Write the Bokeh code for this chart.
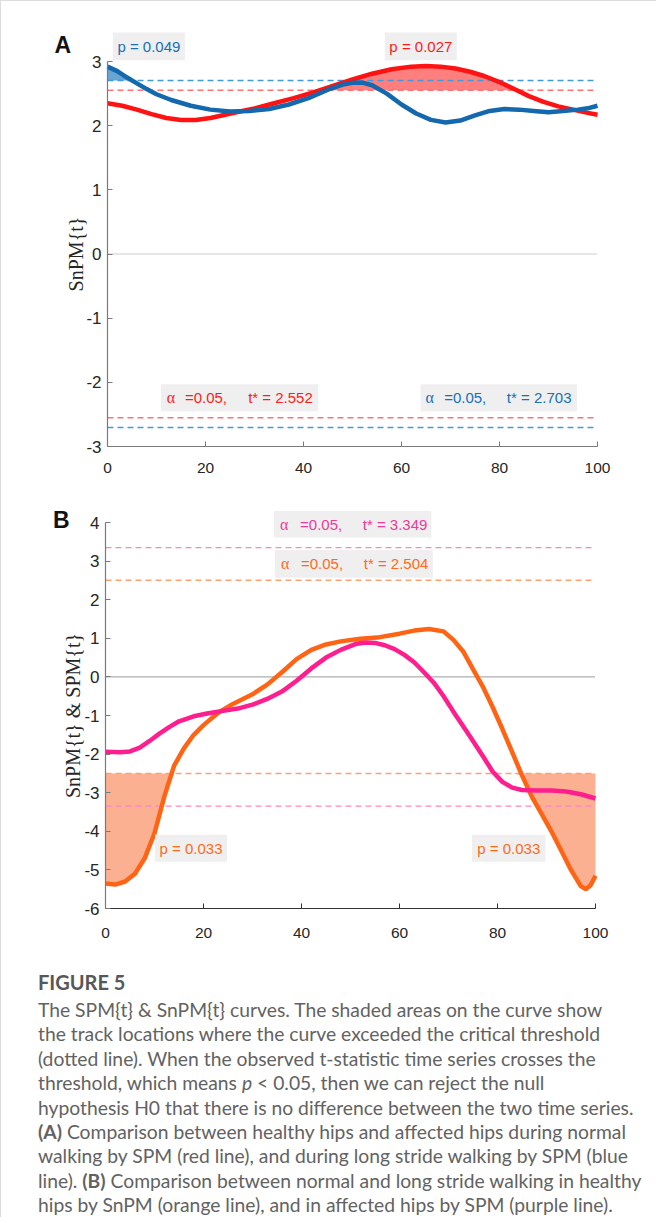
import numpy as np
from bokeh.plotting import figure
from bokeh.models import FixedTicker, Div
from bokeh.layouts import column
from bokeh.embed import file_html
from bokeh.resources import INLINE
from bokeh.core.properties import value

# ---------------- data ----------------
x_ticks = [0, 20, 40, 60, 80, 100]

# Panel A
a_y_ticks = [-3, -2, -1, 0, 1, 2, 3]
a_blue_x = [0, 2, 4, 6, 8, 10, 13, 17, 21, 25, 29, 33, 37, 41, 45, 48, 50, 52, 54, 57, 60, 63, 66, 69, 72, 75, 78, 81, 84, 87, 90, 93, 96, 98, 100]
a_blue_y = [2.92, 2.85, 2.75, 2.66, 2.57, 2.49, 2.40, 2.31, 2.25, 2.22, 2.23, 2.26, 2.33, 2.43, 2.56, 2.64, 2.67, 2.67, 2.63, 2.50, 2.33, 2.19, 2.09, 2.05, 2.08, 2.16, 2.23, 2.26, 2.25, 2.23, 2.21, 2.23, 2.25, 2.27, 2.31]
a_red_x = [0, 3, 6, 9, 12, 15, 18, 21, 24, 27, 30, 34, 38, 42, 46, 50, 54, 58, 62, 65, 68, 71, 74, 77, 80, 83, 86, 89, 92, 95, 98, 100]
a_red_y = [2.35, 2.31, 2.25, 2.18, 2.12, 2.09, 2.09, 2.12, 2.17, 2.22, 2.27, 2.35, 2.43, 2.52, 2.62, 2.72, 2.81, 2.88, 2.92, 2.93, 2.92, 2.89, 2.84, 2.77, 2.68, 2.57, 2.46, 2.37, 2.30, 2.25, 2.20, 2.17]
a_t_red = 2.552
a_t_blue = 2.703
a_p_red = "p = 0.027"
a_p_blue = "p = 0.049"

# Panel B
b_y_ticks = [-6, -5, -4, -3, -2, -1, 0, 1, 2, 3, 4]
b_orange_x = [0, 2, 4, 6, 8, 10, 12, 14, 16, 18, 20, 23, 26, 30, 33, 36, 39, 42, 45, 48, 52, 56, 60, 63, 66, 69, 71, 73, 75, 77, 79, 81, 83, 85, 87, 89, 91, 93, 95, 97, 98, 99, 100]
b_orange_y = [-5.35, -5.38, -5.30, -5.10, -4.70, -4.05, -3.10, -2.30, -1.85, -1.50, -1.25, -0.93, -0.70, -0.45, -0.20, 0.12, 0.46, 0.70, 0.84, 0.92, 0.99, 1.03, 1.12, 1.20, 1.24, 1.18, 0.96, 0.66, 0.20, -0.25, -0.78, -1.35, -1.95, -2.55, -3.10, -3.55, -4.00, -4.50, -5.00, -5.42, -5.50, -5.40, -5.15]
b_pink_x = [0, 3, 5, 7, 9, 11, 13, 15, 18, 21, 24, 27, 30, 33, 36, 39, 42, 45, 48, 51, 53, 55, 57, 59, 61, 63, 65, 67, 69, 71, 73, 75, 77, 79, 81, 83, 85, 88, 91, 94, 97, 100]
b_pink_y = [-1.94, -1.95, -1.93, -1.83, -1.66, -1.47, -1.30, -1.15, -1.02, -0.94, -0.88, -0.82, -0.72, -0.57, -0.38, -0.10, 0.22, 0.50, 0.70, 0.85, 0.89, 0.88, 0.82, 0.72, 0.57, 0.38, 0.12, -0.15, -0.50, -0.90, -1.28, -1.66, -2.05, -2.45, -2.72, -2.87, -2.93, -2.94, -2.94, -2.97, -3.04, -3.15]
b_t_orange = 2.504
b_t_pink = 3.349
b_p_orange = "p = 0.033"
alpha_level = "=0.05,"

# ---------------- style ----------------
SANS = "Liberation Sans"
SERIF = "Liberation Serif"
RED = "#ff1212"
BLUE = "#1368ae"
RED_DASH = "#ff7373"
BLUE_DASH = "#3f9be0"
RED_TXT = "#ff1a1a"
BLUE_TXT = "#1670b8"
ORANGE = "#ff6414"
PINK = "#ff1e8e"
ORANGE_DASH = "#ffa070"
PINK_DASH = "#ff82c3"
ORANGE_TXT = "#ff6a1a"
PINK_TXT = "#f0389a"
BOX = "#efefef"
W = 645
PX_PER_X = 4.9


def make_fig(height, x0_px, ytop_px, px_per_y, y_ticks, xcol, ycol, xstand):
    # the frame fills the whole canvas; axes are pinned at x=0 and y=min tick
    xmin = -x0_px / PX_PER_X
    xmax = xmin + W / PX_PER_X
    ymax = y_ticks[-1] + ytop_px / px_per_y
    ymin = ymax - height / px_per_y
    p = figure(width=W, height=height, x_range=(xmin, xmax), y_range=(ymin, ymax),
               output_backend="svg", toolbar_location=None,
               min_border_left=0, min_border_right=0, min_border_top=0, min_border_bottom=0)
    p.outline_line_color = None
    p.grid.visible = False
    for ax, col in ((p.xaxis[0], xcol), (p.yaxis[0], ycol)):
        ax.axis_line_color = col
        ax.axis_line_width = 1.2
        ax.major_tick_line_color = col
        ax.major_tick_in = 5
        ax.major_tick_out = 0
        ax.minor_tick_line_color = None
        ax.major_label_text_font = SANS
        ax.major_label_text_color = "#262626"
        ax.major_label_orientation = "horizontal"
    p.xaxis.major_label_text_font_size = "15.5px"
    p.yaxis.major_label_text_font_size = "17px"
    p.xaxis.ticker = FixedTicker(ticks=x_ticks)
    p.xaxis.bounds = (x_ticks[0], x_ticks[-1])
    p.xaxis.fixed_location = y_ticks[0]
    p.xaxis.major_label_standoff = xstand
    p.yaxis.ticker = FixedTicker(ticks=y_ticks)
    p.yaxis.bounds = (y_ticks[0], y_ticks[-1])
    p.yaxis.major_label_overrides = {t: str(t) for t in y_ticks}
    p.yaxis.fixed_location = x_ticks[0]
    p.yaxis.major_label_standoff = 6
    return p


def hline(p, yv, color, dash, width=1.4):
    p.line(x=[x_ticks[0], x_ticks[-1]], y=[yv, yv], line_color=color, line_width=width, line_dash=dash)


def alpha_box(p, left, right, bottom, top, xa, xe, xt, tval, color):
    p.quad(left=[left], right=[right], bottom=[bottom], top=[top], fill_color=BOX, line_color=None)
    yc = (bottom + top) / 2
    p.text(x=[xa], y=[yc], text=["\u03b1"], text_font=value(SERIF), text_font_size="16px",
           text_color=color, text_align="left", text_baseline="middle")
    p.text(x=[xe], y=[yc], text=[alpha_level], text_font=value(SANS), text_font_size="15px",
           text_color=color, text_align="left", text_baseline="middle")
    p.text(x=[xt], y=[yc], text=["t* = %.3f" % tval], text_font=value(SANS), text_font_size="15px",
           text_color=color, text_align="left", text_baseline="middle")


def p_box(p, left, right, bottom, top, txt, color):
    p.quad(left=[left], right=[right], bottom=[bottom], top=[top], fill_color=BOX, line_color=None)
    p.text(x=[(left + right) / 2], y=[(bottom + top) / 2], text=[txt], text_font=value(SANS),
           text_font_size="15px", text_color=color, text_align="center", text_baseline="middle")


def side_text(p, x, y, txt, font, size, bold=False, angle=0.0):
    p.text(x=[x], y=[y], text=[txt], text_font=value(font), text_font_size=size,
           text_font_style="bold" if bold else "normal", text_color="#111111" if bold else "#262626",
           angle=angle, text_align="center", text_baseline="middle")


# ---------------- Panel A ----------------
# page: x=0 at 115px, y=3 at 69px (canvas starts at page 9,9)
pa = make_fig(490, 106, 60, 64.17, a_y_ticks, "#7a7a7a", "#7a7a7a", 16)

ab_x = np.array(a_blue_x, float); ab_y = np.array(a_blue_y, float)
ar_x = np.array(a_red_x, float); ar_y = np.array(a_red_y, float)

pa.varea(x=ar_x, y1=np.full_like(ar_y, a_t_red), y2=np.maximum(ar_y, a_t_red),
         fill_color="#ff2a2a", fill_alpha=0.6)
pa.varea(x=ab_x, y1=np.full_like(ab_y, a_t_blue), y2=np.maximum(ab_y, a_t_blue),
         fill_color="#2a7fc0", fill_alpha=0.7)

hline(pa, 0, "#9a9a9a", "1 1", 1)
for loc, col in ((a_t_red, RED_DASH), (-a_t_red, RED_DASH), (a_t_blue, BLUE_DASH), (-a_t_blue, BLUE_DASH)):
    hline(pa, loc, col, "6 4")

pa.line(ar_x, ar_y, line_color=RED, line_width=4.5)
pa.line(ab_x, ab_y, line_color=BLUE, line_width=4.5)

p_box(pa, 1.1, 15.8, 3.02, 3.45, a_p_blue, BLUE_TXT)
p_box(pa, 56.6, 71.3, 3.02, 3.45, a_p_red, RED_TXT)
alpha_box(pa, 10.9, 43.0, -2.45, -2.03, 12.1, 15.8, 28.7, a_t_red, RED_TXT)
alpha_box(pa, 63.9, 95.8, -2.45, -2.03, 64.9, 68.7, 81.5, a_t_blue, BLUE_TXT)

side_text(pa, -9.1, 3.257, "A", SANS, "23px", bold=True)
side_text(pa, -6.5, 0, "SnPM{t}", SERIF, "20px", angle=np.pi / 2)

# ---------------- Panel B ----------------
# page: x=0 at 113px, y=4 at 530px (canvas starts at page 9,499)
pb = make_fig(460, 104, 31, 38.6, b_y_ticks, "#333333", "#7a7a7a", 19)

bo_x = np.array(b_orange_x, float); bo_y = np.array(b_orange_y, float)
bp_x = np.array(b_pink_x, float); bp_y = np.array(b_pink_y, float)

pb.varea(x=bo_x, y1=np.minimum(bo_y, -b_t_orange), y2=np.full_like(bo_y, -b_t_orange),
         fill_color="#fbb092", fill_alpha=1.0)

hline(pb, 0, "#333333", "1 1", 1)
for loc, col in ((b_t_pink, PINK_DASH), (-b_t_pink, PINK_DASH), (b_t_orange, ORANGE_DASH), (-b_t_orange, ORANGE_DASH)):
    hline(pb, loc, col, "6 4")

pb.line(bo_x, bo_y, line_color=ORANGE, line_width=4.5)
pb.line(bp_x, bp_y, line_color=PINK, line_width=4.5)

alpha_box(pb, 34.4, 66.5, 3.61, 4.30, 35.6, 39.7, 52.5, b_t_pink, PINK_TXT)
alpha_box(pb, 34.6, 66.8, 2.57, 3.29, 35.8, 39.9, 52.7, b_t_orange, ORANGE_TXT)
p_box(pb, 10.1, 24.8, -4.79, -4.09, b_p_orange, ORANGE_TXT)
p_box(pb, 74.8, 89.8, -4.79, -4.09, b_p_orange, ORANGE_TXT)

side_text(pb, -9.0, 4.065, "B", SANS, "23px", bold=True)
side_text(pb, -6.7, -1, "SnPM{t} & SPM{t}", SERIF, "20px", angle=np.pi / 2)

# ---------------- Caption ----------------
caption_title = "FIGURE 5"
caption_lines = [
    "The SPM{t} &amp; SnPM{t} curves. The shaded areas on the curve show",
    "the track locations where the curve exceeded the critical threshold",
    "(dotted line). When the observed t-statistic time series crosses the",
    "threshold, which means <i>p</i> &lt; 0.05, then we can reject the null",
    "hypothesis H0 that there is no difference between the two time series.",
    "<b>(A)</b> Comparison between healthy hips and affected hips during normal",
    "walking by SPM (red line), and during long stride walking by SPM (blue",
    "line). <b>(B)</b> Comparison between normal and long stride walking in healthy",
    "hips by SnPM (orange line), and in affected hips by SPM (purple line).",
]
parts = ['<div style="position:relative;width:645px;height:256px;font-family:Lato;color:#626262;">']
parts.append('<div style="position:absolute;left:32px;top:14px;line-height:24px;font-size:20px;'
             'font-weight:bold;color:#585858;white-space:nowrap;">%s</div>' % caption_title)
for i, ln in enumerate(caption_lines):
    top = 42 + i * 24.4
    parts.append('<div style="position:absolute;left:32px;top:%.1fpx;line-height:24px;font-size:19.3px;'
                 'white-space:nowrap;">%s</div>' % (top, ln))
parts.append('</div>')
cap = Div(text="".join(parts), width=645, height=256)

layout = column(pa, pb, cap, styles={"border-left": "1px solid #dcdcdc", "border-top": "1px solid #dcdcdc"})

open("out.html", "w").write(file_html(layout, INLINE))
